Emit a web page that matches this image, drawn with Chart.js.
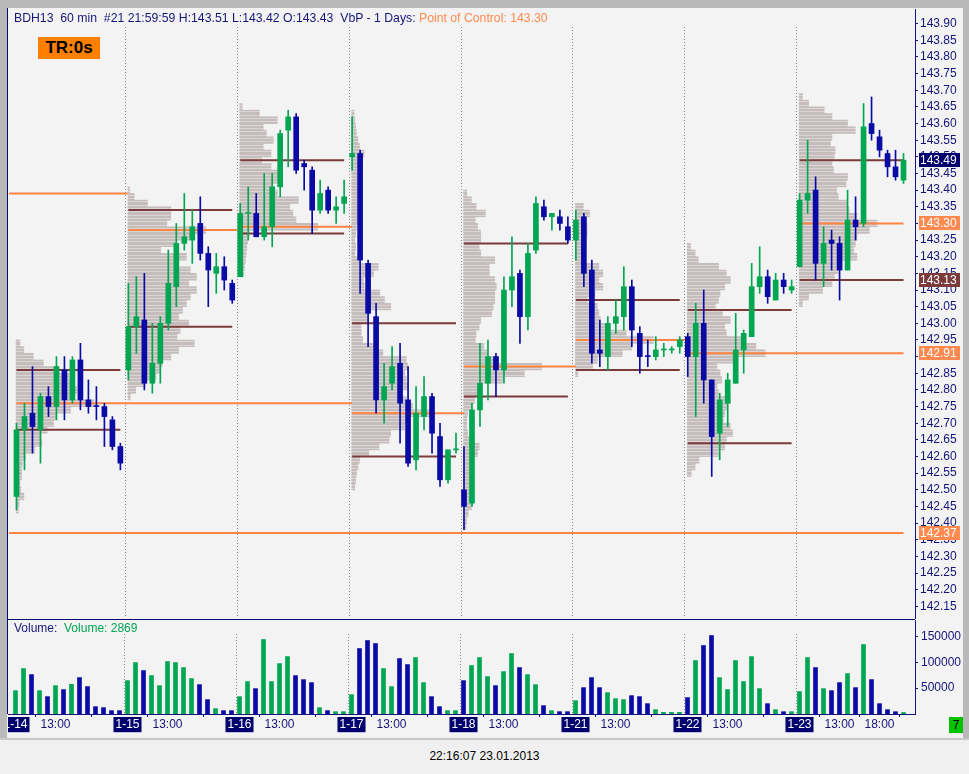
<!DOCTYPE html>
<html>
<head>
<meta charset="utf-8">
<title>BDH13 60 min</title>
<script src="https://cdn.jsdelivr.net/npm/chart.js@4.4.1/dist/chart.umd.min.js"></script>
<style>
  html, body { margin: 0; padding: 0; }
  body { width: 969px; height: 774px; position: relative; overflow: hidden; background: #f0f0f0; font-family: "Liberation Sans", Arial, sans-serif; }
  .abs { position: absolute; }
  #frame-top { left: 0; top: 0; width: 969px; height: 8px; background: #b9b9b9; }
  #frame-left { left: 0; top: 0; width: 7px; height: 740px; background: #b9b9b9; }
  #frame-right { left: 963px; top: 0; width: 6px; height: 740px; background: #b9b9b9; }
  #frame-bottom { left: 0; top: 738px; width: 969px; height: 2px; background: #c8c8c8; }
  #pane-left { left: 7px; top: 8px; width: 1px; height: 706px; background: #0b0b6e; }
  #pane-sep { left: 8px; top: 619px; width: 907px; height: 1px; background: #0b0b6e; }
  #price-wrap { left: 8px; top: 8px; width: 955px; height: 611px; background: #f3f3f3; }
  #vol-wrap { left: 8px; top: 619px; width: 955px; height: 119px; background: #f3f3f3; }
  #title { left: 14px; top: 11px; font-size: 12.25px; color: #16167a; white-space: pre; }
  #title span { color: #ff8a4f; }
  #tr { left: 38px; top: 37px; width: 62px; height: 22px; background: #ff8000; color: #000; font-weight: bold; font-size: 17px; line-height: 22px; text-align: center; }
  #vol-title { left: 14px; top: 621px; font-size: 12px; color: #16167a; white-space: pre; }
  #vol-title span { color: #00a651; }
  #bars-count { left: 949px; top: 717px; width: 14px; height: 16px; background: #00c400; color: #000; font-size: 12px; line-height: 16px; text-align: center; }
  #stamp { left: 0; top: 749px; width: 969px; text-align: center; font-size: 12px; color: #000; }
</style>
</head>
<body>
<div class="abs" id="price-wrap"><canvas id="priceChart"></canvas></div>
<div class="abs" id="vol-wrap"><canvas id="volChart"></canvas></div>
<div class="abs" id="frame-top"></div>
<div class="abs" id="frame-left"></div>
<div class="abs" id="frame-right"></div>
<div class="abs" id="frame-bottom"></div>
<div class="abs" id="pane-left"></div>
<div class="abs" id="pane-sep"></div>
<div class="abs" id="title">BDH13  60 min  #21 21:59:59 H:143.51 L:143.42 O:143.43  VbP - 1 Days: <span>Point of Control: 143.30</span></div>
<div class="abs" id="tr">TR:0s</div>
<div class="abs" id="vol-title">Volume:  <span>Volume: 2869</span></div>
<div class="abs" id="bars-count">7</div>
<div class="abs" id="stamp">22:16:07 23.01.2013</div>

<script>
// hourly bars 08:00-21:00, 14 per session
const dayLabels = ['1-14', '1-15', '1-16', '1-17', '1-18', '1-21', '1-22', '1-23'];
const barsPerDay = 14;

const opens = [
  142.48, 142.68, 142.73, 142.68, 142.78, 142.75, 142.86, 142.77, 142.89, 142.77, 142.75, 142.75, 142.71, 142.63,
  142.86, 142.99, 143.01, 142.82, 142.88, 143.00, 143.11, 143.24, 143.25, 143.30, 143.21, 143.15, 143.17, 143.12,
  143.14, 143.33, 143.33, 143.26, 143.29, 143.41, 143.58, 143.62, 143.48, 143.46, 143.34, 143.40, 143.34, 143.36,
  143.50, 143.51, 143.18, 143.02, 142.77, 142.82, 142.88, 142.77, 142.59, 142.72, 142.78, 142.66, 142.53, 142.62,
  142.50, 142.46, 142.74, 142.82, 142.90, 142.86, 143.10, 143.15, 143.02, 143.22, 143.35, 143.32, 143.32, 143.29,
  143.25, 143.32, 143.16, 142.92, 142.90, 143.00, 143.02, 143.11, 142.97, 142.90, 142.90, 142.92, 142.92, 142.93,
  142.96, 142.90, 143.00, 142.83, 142.67, 142.76, 142.82, 142.92, 142.96, 143.11, 143.14, 143.07, 143.13, 143.10,
  143.17, 143.37, 143.40, 143.18, 143.25, 143.24, 143.16, 143.31, 143.30, 143.60, 143.56, 143.51, 143.47, 143.43
];
const highs = [
  142.70, 142.76, 142.87, 142.79, 142.81, 142.90, 142.90, 142.90, 142.94, 142.83, 142.81, 142.76, 142.72, 142.64,
  143.12, 143.14, 143.15, 143.00, 143.02, 143.22, 143.30, 143.39, 143.34, 143.38, 143.23, 143.21, 143.20, 143.13,
  143.36, 143.41, 143.39, 143.45, 143.45, 143.58, 143.64, 143.63, 143.49, 143.47, 143.43, 143.41, 143.38, 143.43,
  143.62, 143.52, 143.19, 143.06, 142.88, 142.93, 142.94, 142.87, 142.81, 142.84, 142.79, 142.70, 142.62, 142.67,
  142.63, 142.76, 142.94, 142.95, 142.91, 143.14, 143.26, 143.16, 143.24, 143.38, 143.37, 143.33, 143.34, 143.32,
  143.34, 143.33, 143.19, 143.01, 143.02, 143.07, 143.17, 143.13, 142.99, 142.95, 142.96, 142.94, 142.93, 142.96,
  142.97, 143.06, 143.10, 142.83, 142.79, 142.85, 143.03, 142.98, 143.18, 143.23, 143.16, 143.15, 143.15, 143.13,
  143.39, 143.55, 143.44, 143.29, 143.28, 143.26, 143.40, 143.38, 143.66, 143.68, 143.58, 143.52, 143.52, 143.51
];
const lows = [
  142.44, 142.56, 142.61, 142.58, 142.72, 142.71, 142.71, 142.76, 142.74, 142.73, 142.71, 142.63, 142.62, 142.56,
  142.83, 142.91, 142.80, 142.79, 142.82, 142.98, 143.05, 143.22, 143.18, 143.19, 143.05, 143.09, 143.10, 143.06,
  143.14, 143.25, 143.26, 143.25, 143.23, 143.38, 143.47, 143.45, 143.40, 143.27, 143.33, 143.33, 143.30, 143.33,
  143.46, 143.09, 142.93, 142.73, 142.70, 142.80, 142.64, 142.57, 142.56, 142.68, 142.61, 142.51, 142.52, 142.61,
  142.38, 142.45, 142.69, 142.77, 142.78, 142.82, 143.05, 142.94, 142.98, 143.21, 143.31, 143.28, 143.28, 143.24,
  143.19, 143.11, 142.88, 142.87, 142.86, 142.97, 142.98, 142.93, 142.85, 142.87, 142.89, 142.90, 142.91, 142.91,
  142.84, 142.72, 142.76, 142.54, 142.59, 142.69, 142.82, 142.85, 142.96, 143.09, 143.06, 143.07, 143.09, 143.09,
  143.17, 143.33, 143.13, 143.11, 143.16, 143.07, 143.16, 143.25, 143.29, 143.55, 143.50, 143.44, 143.43, 143.42
];
const closes = [
  142.68, 142.72, 142.69, 142.78, 142.75, 142.87, 142.77, 142.89, 142.77, 142.75, 142.75, 142.72, 142.63, 142.58,
  142.99, 143.02, 142.82, 142.88, 143.00, 143.12, 143.24, 143.26, 143.29, 143.21, 143.16, 143.17, 143.13, 143.07,
  143.33, 143.33, 143.26, 143.29, 143.41, 143.57, 143.62, 143.46, 143.47, 143.34, 143.39, 143.34, 143.35, 143.38,
  143.51, 143.19, 143.03, 142.77, 142.81, 142.87, 142.76, 142.58, 142.73, 142.78, 142.67, 142.53, 142.62, 142.62,
  142.45, 142.74, 142.82, 142.90, 142.86, 143.10, 143.14, 143.02, 143.21, 143.36, 143.32, 143.33, 143.30, 143.25,
  143.31, 143.15, 142.91, 142.91, 143.00, 143.02, 143.11, 142.98, 142.90, 142.90, 142.92, 142.92, 142.92, 142.95,
  142.90, 143.00, 142.83, 142.66, 142.77, 142.83, 142.92, 142.97, 143.11, 143.14, 143.08, 143.13, 143.11, 143.11,
  143.37, 143.39, 143.18, 143.24, 143.24, 143.16, 143.31, 143.29, 143.59, 143.57, 143.52, 143.47, 143.44, 143.49
];
// bars where open == close but the bar was an up bar
const upDoji = [29, 55, 81, 82];

const volumes = [
  45200, 87900, 76200, 45200, 33600, 54900, 47200, 57500, 70400, 53000, 14200, 12300, 6500, 6500,
  64600, 99500, 84000, 74300, 54900, 101400, 99500, 89800, 68500, 56800, 27800, 10300, 6500, 6500,
  33600, 62700, 49100, 144100, 62700, 97500, 111100, 74300, 66500, 60700, 12300, 6500, 4500, 4500,
  37500, 126600, 142100, 136300, 87900, 53000, 107200, 95600, 109200, 60700, 33600, 14200, 6500, 6500,
  64600, 93700, 109200, 72400, 54900, 82000, 116900, 89800, 76200, 56800, 16200, 6500, 4500, 4500,
  25800, 51000, 70400, 51000, 41300, 29700, 27800, 35500, 33600, 20000, 8400, 3200, 3200, 3200,
  31700, 103400, 132400, 151800, 70400, 47200, 103400, 62700, 111100, 49100, 20000, 8400, 4500, 4500,
  43300, 109200, 89800, 49100, 45200, 60700, 78200, 51000, 134400, 66500, 20000, 8400, 4500, 2869
];

// volume at price, % of the session's point of control, one row per 0.02 from the top price down
const profileStep = 0.02;
const profileTops = [142.94, 143.40, 143.65, 143.63, 143.39, 143.35, 143.23, 143.68];
const vp0114 = [5, 10, 22, 35, 55, 68, 70, 78, 75, 100, 70, 52, 48, 40, 32, 33, 24, 12, 8, 7, 7, 5, 6, 10, 4, 3];
const vp0115 = [2, 8, 25, 55, 55, 50, 100, 80, 62, 42, 75, 65, 80, 88, 78, 88, 80, 75, 70, 65, 78, 67, 63, 85, 65, 55, 44, 42, 36, 22, 10, 3];
const vp0116 = [3, 25, 48, 30, 34, 43, 30, 40, 28, 40, 52, 55, 42, 48, 75, 64, 68, 72, 100, 12, 10, 9, 8, 7, 6, 5];
const vp0117 = [3, 4, 5, 6, 8, 10, 16, 14, 14, 12, 12, 10, 8, 9, 10, 8, 7, 6, 5, 4, 5, 4, 10, 34, 28, 15, 16, 36, 42, 50,
  22, 20, 12, 12, 14, 28, 40, 70, 72, 68, 70, 72, 65, 70, 78, 100, 75, 68, 50, 48, 35, 22, 10, 8, 6, 5, 4];
const vp0118 = [4, 10, 16, 28, 15, 18, 22, 22, 20, 22, 40, 33, 33, 40, 42, 40, 40, 38, 36, 22, 20, 16, 15, 26, 30, 45,
  100, 78, 50, 22, 20, 14, 10, 5, 4, 4, 5, 14, 20, 18, 12, 10, 8, 10, 9, 10, 8, 10, 6, 4, 3];
const vp0121 = [10, 18, 14, 15, 15, 14, 12, 12, 12, 30, 35, 30, 35, 25, 15, 28, 30, 32, 40, 65, 100, 72, 60, 28, 22, 3];
const vp0122 = [4, 10, 14, 40, 50, 55, 48, 42, 40, 36, 45, 55, 48, 50, 72, 88, 100, 60, 38, 42, 44, 38, 40, 55, 52, 48,
  46, 55, 58, 50, 48, 40, 15, 10, 5];
const vp0123 = [4, 12, 32, 42, 62, 72, 42, 40, 46, 45, 42, 44, 62, 60, 48, 50, 62, 64, 74, 100, 90, 74, 72, 70, 74, 55,
  50, 45, 42, 30, 12, 4];
const profiles = [vp0114, vp0115, vp0116, vp0117, vp0118, vp0121, vp0122, vp0123];

// session levels: point of control, value area high / low
const pocPrices = [142.76, 143.28, 143.29, 142.73, 142.87, 142.95, 142.91, 143.30];
const pocEndBars = [42, 27.6, 42, 56, 70, 83.6, 111, 111];
const vahPrices = [142.86, 143.34, 143.49, 143.00, 143.24, 143.07, 143.04, 143.49];
const valPrices = [142.68, 142.99, 143.27, 142.60, 142.78, 142.86, 142.64, 143.13];
// untouched points of control from earlier sessions
const olderPocPrices = [143.39, 142.37];
const olderPocEndBars = [13.9, 111];

const priceTicks = [143.90, 143.85, 143.80, 143.75, 143.70, 143.65, 143.60, 143.55, 143.50, 143.45, 143.40, 143.35,
  143.30, 143.25, 143.20, 143.15, 143.10, 143.05, 143.00, 142.95, 142.90, 142.85, 142.80, 142.75, 142.70, 142.65,
  142.60, 142.55, 142.50, 142.45, 142.40, 142.35, 142.30, 142.25, 142.20, 142.15];
const volumeTicks = [50000, 100000, 150000];
const timeTickBars = [5, 19, 33, 47, 61, 75, 89, 103, 108];
const timeTickText = ['13:00', '13:00', '13:00', '13:00', '13:00', '13:00', '13:00', '13:00', '18:00'];

const badgePrices = [142.37, 142.91, 143.13, 143.30, 143.49];
const badgeKinds = ['poc', 'poc', 'val', 'poc', 'last'];

const FONT = '"Liberation Sans", Arial, sans-serif';
const NAVY = '#14147a';
const GREEN = '#00a651';
const BLUE = '#0a0aa5';
const ORANGE = '#ff8442';
const BROWN = '#7b3b3b';
const PROFILE = '#c5bcbc';
const PROFILE_GAP = '#dcd5d5';
const X_MIN = -0.9375;
const X_MAX = 112.4375;
const PRICE_MIN = 142.115;
const PRICE_MAX = 143.944;
const VOL_MAX = 181800;

function isUp(i) {
  if (closes[i] === opens[i]) return upDoji.includes(i);
  return closes[i] > opens[i];
}
const candleColors = opens.map((o, i) => (isUp(i) ? GREEN : BLUE));
const barIndex = opens.map((o, i) => i);

// thin light lines every ~3.3px, like the tick-sized rows of the original profile
function rowPattern() {
  const tile = document.createElement('canvas');
  tile.width = 4;
  tile.height = 10;
  const g = tile.getContext('2d');
  g.fillStyle = PROFILE;
  g.fillRect(0, 0, 4, 10);
  g.fillStyle = PROFILE_GAP;
  [0, 3, 7].forEach((r) => g.fillRect(0, r, 4, 1));
  return g.createPattern(tile, 'repeat');
}

function profileRows() {
  const rows = [];
  profiles.forEach((vp, d) => {
    const start = d * barsPerDay - 0.05;
    vp.forEach((pct, j) => {
      const price = Math.round((profileTops[d] - j * profileStep) * 100) / 100;
      rows.push({ y: price, x: [start, start + (pct / 100) * 9.75] });
    });
  });
  return rows;
}

function levelLine(price, from, to, color) {
  return {
    type: 'line',
    data: [{ x: from, y: price }, { x: to, y: price }],
    borderColor: color,
    borderWidth: 2,
    pointRadius: 0,
    fill: false,
    order: 2,
  };
}

function levelLines() {
  const sets = [];
  dayLabels.forEach((label, d) => {
    const first = d * barsPerDay;
    const last = first + barsPerDay - 1;
    sets.push(levelLine(vahPrices[d], first, last, BROWN));
    sets.push(levelLine(valPrices[d], first, last, BROWN));
    sets.push(levelLine(pocPrices[d], first, pocEndBars[d], ORANGE));
  });
  olderPocPrices.forEach((p, k) => sets.push(levelLine(p, X_MIN, olderPocEndBars[k], ORANGE)));
  return sets;
}

const sessionLines = {
  id: 'sessionLines',
  beforeDatasetsDraw(chart, args, opts) {
    const { ctx, chartArea } = chart;
    const x = chart.scales.x;
    ctx.save();
    ctx.strokeStyle = '#8a8a8a';
    ctx.lineWidth = 1;
    ctx.setLineDash([1, 2]);
    for (let d = 1; d < dayLabels.length; d++) {
      const px = Math.floor(x.getPixelForValue(d * barsPerDay - 0.375)) + 0.5;
      ctx.beginPath();
      ctx.moveTo(px, opts.top);
      ctx.lineTo(px, chartArea.bottom);
      ctx.stroke();
    }
    ctx.restore();
  },
};

const axisBadges = {
  id: 'axisBadges',
  afterDraw(chart) {
    const { ctx } = chart;
    const y = chart.scales.y;
    const fills = { poc: '#ff8a4f', val: BROWN, last: '#00006e' };
    ctx.save();
    ctx.font = '12px ' + FONT;
    ctx.textBaseline = 'middle';
    badgePrices.forEach((p, k) => {
      const py = Math.round(y.getPixelForValue(p));
      ctx.fillStyle = fills[badgeKinds[k]];
      ctx.fillRect(y.left + 4, py - 7, 41, 14);
      ctx.fillStyle = '#ffffff';
      ctx.fillText(p.toFixed(2), y.left + 5, py + 0.5);
    });
    ctx.restore();
  },
};

// keep a value range pinned to fixed canvas rows, whatever room the axis labels took
function pinScale(chart, vTop, vBottom, pxTop, pxBottom) {
  const area = chart.chartArea;
  const k = (pxBottom - pxTop) / (vTop - vBottom);
  chart.options.scales.y.max = vTop - (area.top - pxTop) / k;
  chart.options.scales.y.min = vTop - (area.bottom - pxTop) / k;
  chart.update();
}

const commonOptions = {
  animation: false,
  responsive: true,
  maintainAspectRatio: false,
  devicePixelRatio: 1,
  events: [],
};

function rightAxis(extra) {
  return Object.assign({
    type: 'linear',
    position: 'right',
    beginAtZero: false,
    offset: false,
    afterFit: (s) => { s.width = 48; s.paddingTop = 0; s.paddingBottom = 0; },
    grid: { drawOnChartArea: false, drawTicks: true, tickLength: 3, color: NAVY, offset: false },
    border: { color: NAVY, width: 1 },
  }, extra);
}

const priceChart = new Chart(document.getElementById('priceChart'), {
  type: 'bar',
  data: {
    datasets: [
      {
        data: barIndex.map((i) => ({ x: i, y: [opens[i], closes[i]] })),
        backgroundColor: candleColors,
        barThickness: 5,
        minBarLength: 1,
        grouped: false,
        order: 0,
      },
      {
        data: barIndex.map((i) => ({ x: i, y: [lows[i], highs[i]] })),
        backgroundColor: candleColors,
        barThickness: 1,
        grouped: false,
        order: 1,
      },
      ...levelLines(),
      {
        indexAxis: 'y',
        data: profileRows(),
        backgroundColor: rowPattern(),
        barThickness: 6.68,
        grouped: false,
        order: 3,
      },
    ],
  },
  options: Object.assign({}, commonOptions, {
    layout: { padding: 0 },
    plugins: {
      legend: { display: false },
      tooltip: { enabled: false },
      sessionLines: { top: 19 },
    },
    scales: {
      x: { type: 'linear', min: X_MIN, max: X_MAX, offset: false, display: false },
      y: rightAxis({
        min: PRICE_MIN,
        max: PRICE_MAX,
        afterBuildTicks: (s) => { s.ticks = priceTicks.map((v) => ({ value: v })); },
        ticks: { color: NAVY, font: { family: FONT, size: 12 }, padding: 2, autoSkip: false, callback: (v) => Number(v).toFixed(2) },
      }),
    },
  }),
  plugins: [sessionLines, axisBadges],
});
pinScale(priceChart, PRICE_MAX, PRICE_MIN, 0, 611);

const volChart = new Chart(document.getElementById('volChart'), {
  type: 'bar',
  data: {
    datasets: [
      {
        data: volumes.map((v, i) => ({ x: i, y: v })),
        backgroundColor: candleColors,
        barThickness: 4,
        grouped: false,
      },
    ],
  },
  options: Object.assign({}, commonOptions, {
    layout: { padding: { top: 1 } },
    plugins: {
      legend: { display: false },
      tooltip: { enabled: false },
      sessionLines: { top: 15 },
    },
    scales: {
      x: {
        type: 'linear',
        min: X_MIN,
        max: X_MAX,
        offset: false,
        position: 'bottom',
        afterBuildTicks: (s) => {
          const ticks = dayLabels.map((l, d) => ({ value: d * barsPerDay }));
          timeTickBars.forEach((b) => ticks.push({ value: b }));
          s.ticks = ticks.sort((a, b) => a.value - b.value);
        },
        afterFit: (s) => { s.height = 24; s.paddingLeft = 0; s.paddingRight = 0; },
        grid: { drawOnChartArea: false, drawTicks: true, tickLength: 3, color: NAVY },
        border: { color: NAVY, width: 1 },
        ticks: {
          autoSkip: false,
          maxRotation: 0,
          padding: 1,
          font: { family: FONT, size: 12, lineHeight: 1.1 },
          callback: (v) => {
            if (v % barsPerDay === 0) return dayLabels[v / barsPerDay];
            return timeTickText[timeTickBars.indexOf(v)];
          },
          color: (c) => (c.tick && c.tick.value % barsPerDay === 0 ? '#ffffff' : NAVY),
          showLabelBackdrop: (c) => !!(c.tick && c.tick.value % barsPerDay === 0),
          backdropColor: (c) => (c.tick && c.tick.value % barsPerDay === 0 ? '#00006e' : 'rgba(0,0,0,0)'),
          backdropPadding: { x: 2, y: 1 },
        },
      },
      y: rightAxis({
        min: 0,
        max: VOL_MAX,
        afterBuildTicks: (s) => { s.ticks = volumeTicks.map((v) => ({ value: v })); },
        ticks: { color: NAVY, font: { family: FONT, size: 12 }, padding: 3, autoSkip: false, callback: (v) => String(v) },
      }),
    },
  }),
  plugins: [sessionLines],
});
pinScale(volChart, VOL_MAX, 0, 1, 95);
</script>
</body>
</html>
